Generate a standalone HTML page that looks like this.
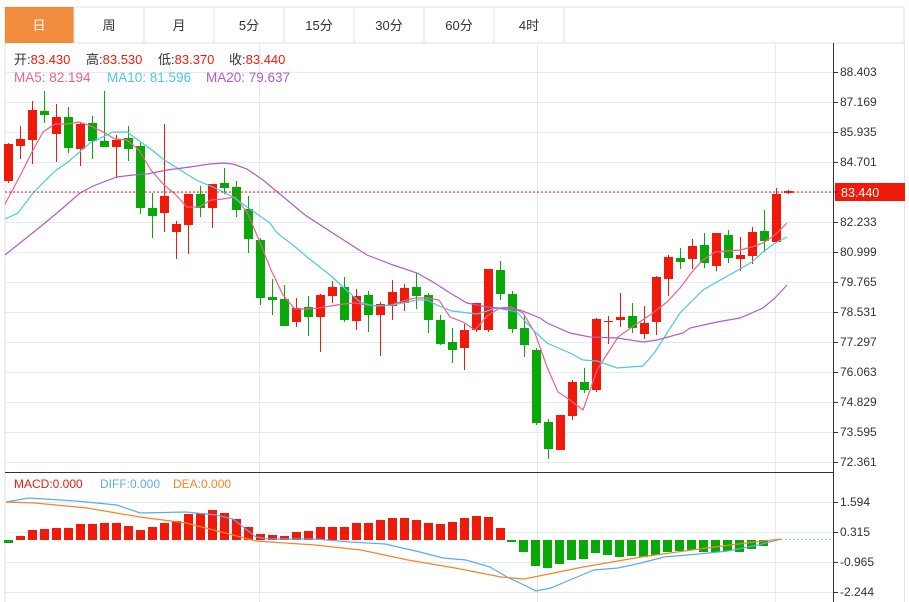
<!DOCTYPE html>
<html><head><meta charset="utf-8"><style>
body{margin:0;background:#fff;width:909px;height:602px;overflow:hidden;font-family:"Liberation Sans","Noto Sans CJK SC",sans-serif}
svg{position:absolute;left:0;top:0}
</style></head><body>
<svg id="s" width="909" height="602" xmlns="http://www.w3.org/2000/svg" font-family="Liberation Sans, Noto Sans CJK SC, sans-serif">
<rect x="5" y="7" width="899" height="36" fill="#fff" stroke="#dde3ea"/>
<rect x="5" y="7" width="69" height="36" fill="#f08c3c"/>
<g stroke="#dde3ea"><line x1="74" y1="7" x2="74" y2="43"/><line x1="144" y1="7" x2="144" y2="43"/><line x1="214" y1="7" x2="214" y2="43"/><line x1="284" y1="7" x2="284" y2="43"/><line x1="354" y1="7" x2="354" y2="43"/><line x1="424" y1="7" x2="424" y2="43"/><line x1="494" y1="7" x2="494" y2="43"/><line x1="564" y1="7" x2="564" y2="43"/></g>
<g font-size="13" text-anchor="middle" fill="#333"><text x="39" y="30" fill="#fff">日</text><text x="109" y="30">周</text><text x="179" y="30">月</text><text x="249" y="30">5分</text><text x="319" y="30">15分</text><text x="389" y="30">30分</text><text x="459" y="30">60分</text><text x="529" y="30">4时</text></g>
<line x1="5" y1="43" x2="5" y2="602" stroke="#dde3ea"/>
<g id="grid" stroke="#e3eaf0" stroke-width="1"></g>
<line x1="5" y1="472.5" x2="833" y2="472.5" stroke="#333"/>
<line x1="833.5" y1="43" x2="833.5" y2="602" stroke="#333"/>
<line x1="904.5" y1="43" x2="904.5" y2="602" stroke="#dde3ea"/>
<g font-size="13">
<text x="14" y="64" fill="#333">开:<tspan fill="#f0190a">83.430</tspan></text>
<text x="86" y="64" fill="#333">高:<tspan fill="#f0190a">83.530</tspan></text>
<text x="158" y="64" fill="#333">低:<tspan fill="#f0190a">83.370</tspan></text>
<text x="229" y="64" fill="#333">收:<tspan fill="#f0190a">83.440</tspan></text>
<text x="14" y="82" fill="#f0608a" font-size="13.5">MA5: 82.194</text><text x="107" y="82" fill="#4cc8e0" font-size="13.5">MA10: 81.596</text><text x="206" y="82" fill="#b05cc8" font-size="13.5">MA20: 79.637</text>
<text x="14" y="488" font-size="12" fill="#f0190a">MACD:0.000</text><text x="100" y="488" font-size="12" fill="#5aacf0">DIFF:0.000</text><text x="173" y="488" font-size="12" fill="#f5842a">DEA:0.000</text>
</g>
<g id="axis" font-size="12" fill="#333"></g>
<g id="macd"></g>
<g id="c"></g>
<line x1="5" y1="192" x2="833" y2="192" stroke="#f0190a" stroke-dasharray="2,2"/>
<rect x="835" y="183" width="70" height="18" fill="#f0190a"/>
<line x1="833" y1="192" x2="838" y2="192" stroke="#333"/>
<text x="841" y="197" font-size="12.5" fill="#fff">83.440</text>
</svg>
<script>
var NS="http://www.w3.org/2000/svg";
function el(p,t,a,txt){var e=document.createElementNS(NS,t);for(var k in a)e.setAttribute(k,a[k]);if(txt)e.textContent=txt;document.getElementById(p).appendChild(e);return e;}
var labels=["88.403","87.169","85.935","84.701","83.467","82.233","80.999","79.765","78.531","77.297","76.063","74.829","73.595","72.361"];
for(var i=0;i<14;i++){var y=72+i*30;el("grid","line",{x1:5,y1:y+.5,x2:833,y2:y+.5});if(i!=4){el("axis","line",{x1:833,y1:y+.5,x2:838,y2:y+.5,stroke:"#333"});el("axis","text",{x:840,y:y+4},labels[i]);}}
var ml=[[502,"1.594"],[532,"0.315"],[562,"-0.965"],[592,"-2.244"]];
ml.forEach(function(m){el("grid","line",{x1:5,y1:m[0]+.5,x2:833,y2:m[0]+.5});el("axis","line",{x1:833,y1:m[0]+.5,x2:838,y2:m[0]+.5,stroke:"#333"});el("axis","text",{x:840,y:m[0]+4},m[1]);});
[259,537,775].forEach(function(x){el("grid","line",{x1:x+.5,y1:43,x2:x+.5,y2:602});});
var R="#f0190a",G="#08a808";
var C=[[144,181,143,183,R],[139,146,126,159,R],[110,140,101,164,R],[111,115,91,123,G],[117,134,104,162,R],[117,148,107,153,G],[124,149,122,166,R],[123,141,116,159,G],[141,147,91,147,G],[140,147,135,178,R],[138,149,126,161,G],[146,208,143,214,G],[208,216,193,238,G],[196,213,124,232,R],[224,232,221,259,R],[194,225,194,254,R],[194,208,186,217,G],[184,208,184,228,R],[183,188,168,194,G],[187,210,181,217,G],[209,239,196,253,G],[240,298,238,305,G],[297,300,279,315,G],[299,326,285,326,G],[308,322,298,327,R],[307,317,296,336,G],[295,317,294,352,R],[287,296,281,303,R],[287,320,277,322,G],[296,321,289,330,R],[295,315,291,332,G],[304,315,302,356,R],[292,306,280,320,R],[288,303,284,311,R],[287,296,273,309,G],[295,320,293,333,G],[320,344,315,345,G],[342,350,328,363,G],[330,348,324,370,R],[303,330,305,332,R],[269,330,269,332,R],[270,294,261,300,G],[294,329,291,333,G],[328,345,315,357,G],[350,423,348,425,G],[422,449,419,459,G],[415,450,415,450,R],[382,416,380,420,R],[382,390,368,393,G],[319,390,318,392,R],[321,322,316,344,R],[317,320,293,327,R],[316,328,303,333,G],[323,334,306,339,R],[277,322,276,335,R],[257,279,255,296,R],[258,262,248,269,G],[246,259,239,269,R],[245,263,233,268,G],[233,266,233,271,R],[235,258,230,263,G],[255,259,237,271,R],[232,256,227,264,R],[231,241,210,252,G],[194,242,188,243,R],[191,193,190,194,R]];
C.forEach(function(c,i){var x=8+i*12;el("c","line",{x1:x+.5,y1:c[2],x2:x+.5,y2:c[3],stroke:c[4]});el("c","rect",{x:x-4,y:c[0],width:9,height:Math.max(1,c[1]-c[0]),fill:c[4]});});
function pl(g,pts,col){el(g,"polyline",{points:pts,fill:"none",stroke:col,"stroke-width":1.2});}
pl("c","5,204 20,176 32,152 43,132 55,124 67,124 79,122 91,126 103,132 115,139 127,140 139,150 151,170 163,184 175,194 187,207 199,207 211,200 223,199 235,197 247,212 259,240 271,270 283,295 295,309 307,309 319,308 331,306 343,304 355,303 367,305 379,306 391,305 403,301 415,298 427,298 439,300 450,317 463,322 475,330 487,316 500,308 511,307 523,313 535,333 547,367 558,392 570,400 583,410 597,370 618,337 632,327 653,313 667,302 680,288 692,272 703,260 715,252 727,251 740,250 752,247 763,243 775,235 787,223","#f0608a");
pl("c","5,219 18,213 33,193 55,171 68,162 90,143 113,132 127,132 138,140 152,150 163,159 185,173 198,181 213,187 233,197 247,207 270,223 277,233 293,245 307,257 330,275 343,287 360,302 373,306 393,305 417,300 427,300 437,305 452,311 477,314 497,308 517,312 533,330 547,343 570,353 583,360 597,361 617,368 643,366 655,352 667,333 680,313 703,290 717,282 740,269 752,262 763,252 775,243 787,237","#4cc8e0");
pl("c","5,255 40,227 57,213 80,193 93,186 117,177 133,175 147,174 167,170 190,167 210,164 223,163 233,164 247,169 263,180 287,200 305,215 328,230 367,255 393,265 417,273 433,282 450,293 467,303 487,307 520,310 540,318 547,323 570,333 590,337 617,338 643,342 657,340 683,333 690,328 717,322 740,318 763,308 775,298 787,285","#b05cc8");
var Z=540;
var mt=[536,530,529,528,528,524,524,523,523,526,530,527,523,521,514,513,510,513,519,527,534,535,536,532,531,527,527,527,523,523,520,518,518,520,523,524,522,518,516,517,528];
el("macd","rect",{x:4,y:540,width:9,height:3,fill:G});
mt.forEach(function(t,i){var x=20+i*12;el("macd","rect",{x:x-4,y:t,width:9,height:Z-t,fill:R});});
el("macd","rect",{x:507,y:540,width:9,height:2,fill:G});
var mb=[552,566,568,564,560,559,553,555,557,556,557,555,552,551,550,552,552,551,552,549,546];
mb.forEach(function(b,i){var x=523+i*12;el("macd","rect",{x:x-4,y:Z,width:9,height:b-Z,fill:G});});
pl("macd","6,502 29,498 76,501 117,505 140,513 186,512 216,515 233,519 256,537 268,539 315,539 350,542 385,544 420,552 443,558 466,560 490,567 507,577 524,585 536,591 551,588 565,582 594,570 618,568 641,563 664,557 699,554 728,551 758,545 781,539","#5aacf0");
pl("macd","6,502 35,503 87,508 140,517 186,523 233,535 256,541 315,545 361,550 408,560 455,568 501,577 524,579 554,573 583,567 612,562 641,557 699,549 746,543 781,539","#f5842a");
el("macd","line",{x1:781,y1:539.5,x2:833,y2:539.5,stroke:"#8cc8f0","stroke-dasharray":"2,2"});
</script>
</body></html>
